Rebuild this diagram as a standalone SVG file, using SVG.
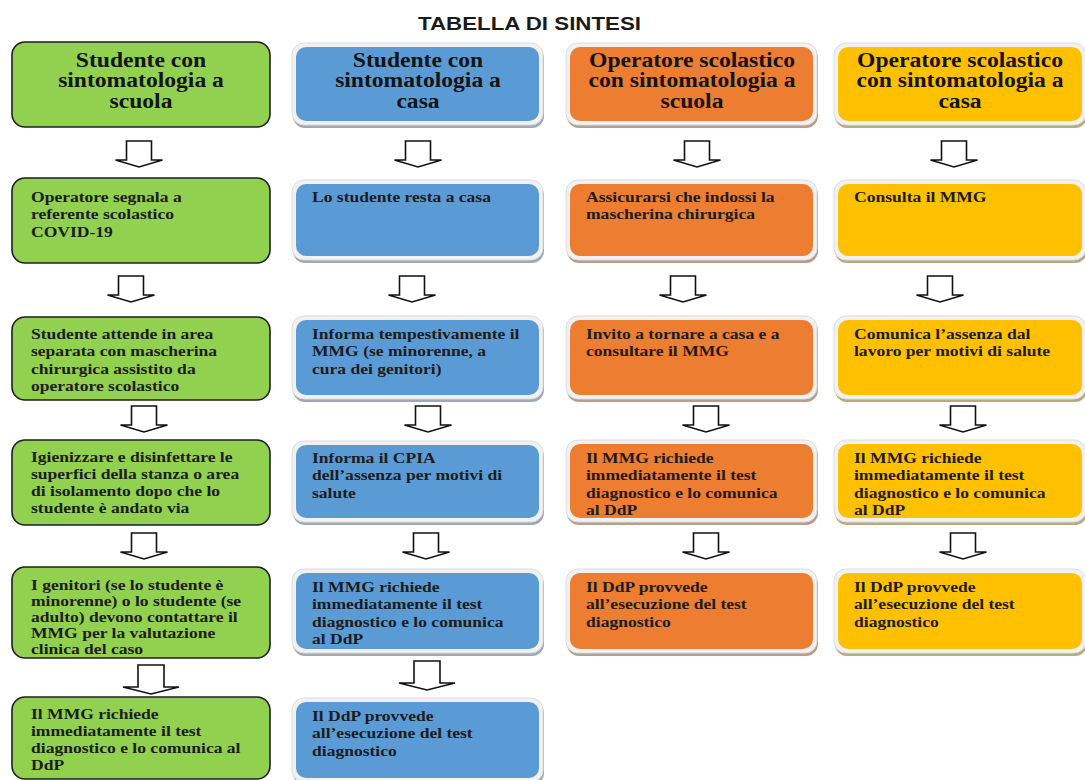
<svg xmlns="http://www.w3.org/2000/svg" width="1085" height="780" viewBox="0 0 1085 780">
<style>
.title{font-family:"Liberation Sans",Arial,sans-serif;font-weight:bold;font-size:18px;fill:#1a1a1a}
.h{font-family:"Liberation Serif","Times New Roman",serif;font-weight:bold;font-size:20px;fill:#141414;text-anchor:middle}
.t{font-family:"Liberation Serif","Times New Roman",serif;font-weight:bold;font-size:15px;fill:#1c1c1c}
.g{fill:#92D050;stroke:#1e1e1e;stroke-width:1.6}
.frame{fill:#f1f1f1;stroke:#dddddd;stroke-width:1}
.b{fill:#5B9BD5}
.o{fill:#ED7D31}
.y{fill:#FFC000}
.sb{fill:#9ea8b6}
.so{fill:#b89c8c}
.sy{fill:#b8aa80}
.arr{fill:#ffffff;stroke:#111111;stroke-width:1.6;stroke-linejoin:miter}
</style>
<defs>
<path id="a" d="M-12.5,0 H12.5 V19 H23.5 L0,26 L-23.5,19 H-12.5 Z"/>
<path id="aw" d="M-13,0 H13 V22 H28 L0,29 L-28,22 H-13 Z"/>
</defs>
<rect width="1085" height="780" fill="#ffffff"/>
<text class="title" x="418" y="30" textLength="223" lengthAdjust="spacingAndGlyphs">TABELLA DI SINTESI</text>

<!-- Green column -->
<g id="g1"><rect class="g" x="12" y="42" width="258" height="85" rx="13"/>
<text class="h" transform="translate(141,67) scale(1.18,1)"><tspan x="0">Studente con</tspan><tspan x="0" dy="20.5">sintomatologia a</tspan><tspan x="0" dy="20.5">scuola</tspan></text></g>
<g id="g2"><rect class="g" x="12" y="178" width="258" height="85" rx="13"/>
<text class="t" transform="translate(31,202) scale(1.17,1)"><tspan x="0">Operatore segnala a</tspan><tspan x="0" dy="17.5">referente scolastico</tspan><tspan x="0" dy="17.5">COVID-19</tspan></text></g>
<g id="g3"><rect class="g" x="12" y="317" width="258" height="83" rx="13"/>
<text class="t" transform="translate(31,339) scale(1.17,1)"><tspan x="0">Studente attende in area</tspan><tspan x="0" dy="17.5">separata con mascherina</tspan><tspan x="0" dy="17.5">chirurgica assistito da</tspan><tspan x="0" dy="17.5">operatore scolastico</tspan></text></g>
<g id="g4"><rect class="g" x="12" y="440" width="258" height="85" rx="13"/>
<text class="t" transform="translate(31,462) scale(1.17,1)"><tspan x="0">Igienizzare e disinfettare le</tspan><tspan x="0" dy="17">superfici della stanza o area</tspan><tspan x="0" dy="17">di isolamento dopo che lo</tspan><tspan x="0" dy="17">studente è andato via</tspan></text></g>
<g id="g5"><rect class="g" x="12" y="567" width="258" height="91" rx="13"/>
<text class="t" transform="translate(31,590) scale(1.17,1)"><tspan x="0">I genitori (se lo studente è</tspan><tspan x="0" dy="16">minorenne) o lo studente (se</tspan><tspan x="0" dy="16">adulto) devono contattare il</tspan><tspan x="0" dy="16">MMG per la valutazione</tspan><tspan x="0" dy="16">clinica del caso</tspan></text></g>
<g id="g6"><rect class="g" x="12" y="697" width="258" height="82" rx="13"/>
<text class="t" transform="translate(31,719) scale(1.17,1)"><tspan x="0">Il MMG richiede</tspan><tspan x="0" dy="17">immediatamente il test</tspan><tspan x="0" dy="17">diagnostico e lo comunica al</tspan><tspan x="0" dy="17">DdP</tspan></text></g>

<!-- Blue column -->
<g id="b1"><rect class="sb" x="293" y="46" width="251" height="82" rx="12"/><rect class="frame" x="292" y="43" width="251" height="82" rx="12"/><rect class="b" x="296" y="47" width="243" height="74" rx="10"/>
<text class="h" transform="translate(418,67) scale(1.18,1)"><tspan x="0">Studente con</tspan><tspan x="0" dy="20.5">sintomatologia a</tspan><tspan x="0" dy="20.5">casa</tspan></text></g>
<g id="b2"><rect class="sb" x="293" y="183" width="251" height="80" rx="12"/><rect class="frame" x="292" y="180" width="251" height="80" rx="12"/><rect class="b" x="296" y="184" width="243" height="72" rx="10"/>
<text class="t" transform="translate(312,202) scale(1.17,1)"><tspan x="0">Lo studente resta a casa</tspan></text></g>
<g id="b3"><rect class="sb" x="293" y="319" width="251" height="83" rx="12"/><rect class="frame" x="292" y="316" width="251" height="83" rx="12"/><rect class="b" x="296" y="320" width="243" height="75" rx="10"/>
<text class="t" transform="translate(312,339) scale(1.17,1)"><tspan x="0">Informa tempestivamente il</tspan><tspan x="0" dy="17.5">MMG (se minorenne, a</tspan><tspan x="0" dy="17.5">cura dei genitori)</tspan></text></g>
<g id="b4"><rect class="sb" x="293" y="444" width="251" height="81" rx="12"/><rect class="frame" x="292" y="441" width="251" height="81" rx="12"/><rect class="b" x="296" y="445" width="243" height="73" rx="10"/>
<text class="t" transform="translate(312,463) scale(1.17,1)"><tspan x="0">Informa il CPIA</tspan><tspan x="0" dy="17.5">dell’assenza per motivi di</tspan><tspan x="0" dy="17.5">salute</tspan></text></g>
<g id="b5"><rect class="sb" x="293" y="572" width="251" height="84" rx="12"/><rect class="frame" x="292" y="569" width="251" height="84" rx="12"/><rect class="b" x="296" y="573" width="243" height="76" rx="10"/>
<text class="t" transform="translate(312,592) scale(1.17,1)"><tspan x="0">Il MMG richiede</tspan><tspan x="0" dy="17.5">immediatamente il test</tspan><tspan x="0" dy="17.5">diagnostico e lo comunica</tspan><tspan x="0" dy="17.5">al DdP</tspan></text></g>
<g id="b6"><rect class="sb" x="293" y="701" width="251" height="84" rx="12"/><rect class="frame" x="292" y="698" width="251" height="84" rx="12"/><rect class="b" x="296" y="702" width="243" height="76" rx="10"/>
<text class="t" transform="translate(312,721) scale(1.17,1)"><tspan x="0">Il DdP provvede</tspan><tspan x="0" dy="17.5">all’esecuzione del test</tspan><tspan x="0" dy="17.5">diagnostico</tspan></text></g>

<!-- Orange column -->
<g id="o1"><rect class="so" x="567" y="46" width="251" height="82" rx="12"/><rect class="frame" x="566" y="43" width="251" height="82" rx="12"/><rect class="o" x="570" y="47" width="243" height="74" rx="10"/>
<text class="h" transform="translate(692,67) scale(1.18,1)"><tspan x="0">Operatore scolastico</tspan><tspan x="0" dy="20.5">con sintomatologia a</tspan><tspan x="0" dy="20.5">scuola</tspan></text></g>
<g id="o2"><rect class="so" x="567" y="183" width="251" height="80" rx="12"/><rect class="frame" x="566" y="180" width="251" height="80" rx="12"/><rect class="o" x="570" y="184" width="243" height="72" rx="10"/>
<text class="t" transform="translate(586,202) scale(1.17,1)"><tspan x="0">Assicurarsi che indossi la</tspan><tspan x="0" dy="17.5">mascherina chirurgica</tspan></text></g>
<g id="o3"><rect class="so" x="567" y="319" width="251" height="83" rx="12"/><rect class="frame" x="566" y="316" width="251" height="83" rx="12"/><rect class="o" x="570" y="320" width="243" height="75" rx="10"/>
<text class="t" transform="translate(586,339) scale(1.17,1)"><tspan x="0">Invito a tornare a casa e a</tspan><tspan x="0" dy="17.5">consultare il MMG</tspan></text></g>
<g id="o4"><rect class="so" x="567" y="443" width="251" height="82" rx="12"/><rect class="frame" x="566" y="440" width="251" height="82" rx="12"/><rect class="o" x="570" y="444" width="243" height="74" rx="10"/>
<text class="t" transform="translate(586,463) scale(1.17,1)"><tspan x="0">Il MMG richiede</tspan><tspan x="0" dy="17.5">immediatamente il test</tspan><tspan x="0" dy="17.5">diagnostico e lo comunica</tspan><tspan x="0" dy="17.5">al DdP</tspan></text></g>
<g id="o5"><rect class="so" x="567" y="572" width="251" height="84" rx="12"/><rect class="frame" x="566" y="569" width="251" height="84" rx="12"/><rect class="o" x="570" y="573" width="243" height="76" rx="10"/>
<text class="t" transform="translate(586,592) scale(1.17,1)"><tspan x="0">Il DdP provvede</tspan><tspan x="0" dy="17.5">all’esecuzione del test</tspan><tspan x="0" dy="17.5">diagnostico</tspan></text></g>

<!-- Yellow column -->
<g id="y1"><rect class="sy" x="835" y="46" width="252" height="82" rx="12"/><rect class="frame" x="834" y="43" width="252" height="82" rx="12"/><rect class="y" x="838" y="47" width="244" height="74" rx="10"/>
<text class="h" transform="translate(960,67) scale(1.18,1)"><tspan x="0">Operatore scolastico</tspan><tspan x="0" dy="20.5">con sintomatologia a</tspan><tspan x="0" dy="20.5">casa</tspan></text></g>
<g id="y2"><rect class="sy" x="835" y="183" width="252" height="80" rx="12"/><rect class="frame" x="834" y="180" width="252" height="80" rx="12"/><rect class="y" x="838" y="184" width="244" height="72" rx="10"/>
<text class="t" transform="translate(854,202) scale(1.17,1)"><tspan x="0">Consulta il MMG</tspan></text></g>
<g id="y3"><rect class="sy" x="835" y="319" width="252" height="83" rx="12"/><rect class="frame" x="834" y="316" width="252" height="83" rx="12"/><rect class="y" x="838" y="320" width="244" height="75" rx="10"/>
<text class="t" transform="translate(854,339) scale(1.17,1)"><tspan x="0">Comunica l’assenza dal</tspan><tspan x="0" dy="17.5">lavoro per motivi di salute</tspan></text></g>
<g id="y4"><rect class="sy" x="835" y="443" width="252" height="82" rx="12"/><rect class="frame" x="834" y="440" width="252" height="82" rx="12"/><rect class="y" x="838" y="444" width="244" height="74" rx="10"/>
<text class="t" transform="translate(854,463) scale(1.17,1)"><tspan x="0">Il MMG richiede</tspan><tspan x="0" dy="17.5">immediatamente il test</tspan><tspan x="0" dy="17.5">diagnostico e lo comunica</tspan><tspan x="0" dy="17.5">al DdP</tspan></text></g>
<g id="y5"><rect class="sy" x="835" y="572" width="252" height="84" rx="12"/><rect class="frame" x="834" y="569" width="252" height="84" rx="12"/><rect class="y" x="838" y="573" width="244" height="76" rx="10"/>
<text class="t" transform="translate(854,592) scale(1.17,1)"><tspan x="0">Il DdP provvede</tspan><tspan x="0" dy="17.5">all’esecuzione del test</tspan><tspan x="0" dy="17.5">diagnostico</tspan></text></g>

<!-- Connectors -->
<g id="connectors" class="arr">
<use href="#a" transform="translate(139,141)"/>
<use href="#a" transform="translate(418,141)"/>
<use href="#a" transform="translate(697,141)"/>
<use href="#a" transform="translate(954,141)"/>
<use href="#a" transform="translate(131,276)"/>
<use href="#a" transform="translate(412,276)"/>
<use href="#a" transform="translate(683,276)"/>
<use href="#a" transform="translate(940,276)"/>
<use href="#a" transform="translate(144,406)"/>
<use href="#a" transform="translate(428,406)"/>
<use href="#a" transform="translate(706,406)"/>
<use href="#a" transform="translate(963,406)"/>
<use href="#a" transform="translate(144,533)"/>
<use href="#a" transform="translate(426,533)"/>
<use href="#a" transform="translate(706,533)"/>
<use href="#a" transform="translate(963,533)"/>
<use href="#aw" transform="translate(151,665)"/>
<use href="#aw" transform="translate(427,661)"/>
</g>
</svg>
